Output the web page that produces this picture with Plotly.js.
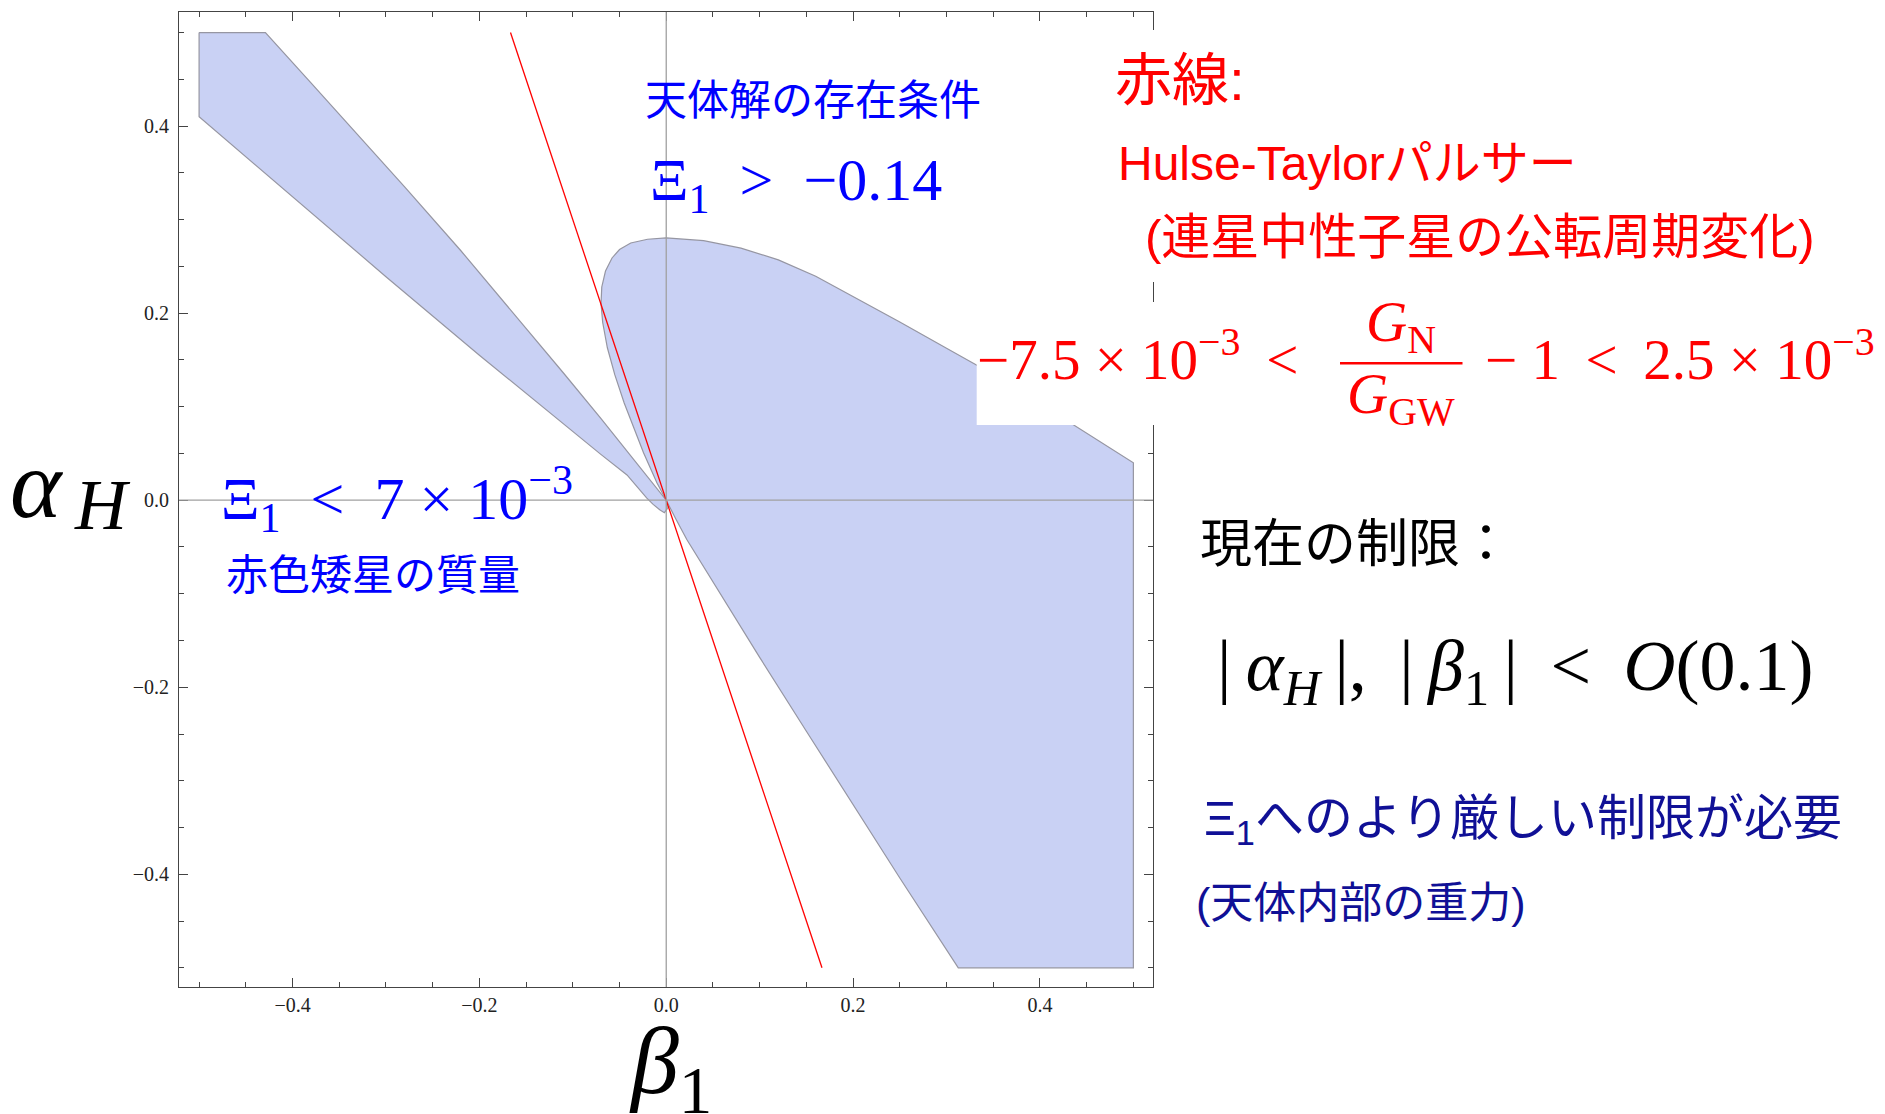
<!DOCTYPE html>
<html>
<head>
<meta charset="utf-8">
<script src="https://cdn.plot.ly/plotly-3.0.1.min.js"></script>
<style>html,body{margin:0;padding:0;background:#fff;}#chart{width:1885px;height:1114px;}</style>
</head>
<body>
<div id="chart"></div>
<script>
// ---- data (beta_1, alpha_H) ----
const wedgeBeta  = [-0.5, -0.429, -0.38, -0.33, -0.28, -0.22, -0.16, -0.11, -0.07, -0.04, -0.02, 0,
                    0.0012, -0.002, -0.007, -0.014, -0.021, -0.028, -0.035, -0.042, -0.07, -0.1, -0.15, -0.2, -0.3, -0.4, -0.5, -0.5];
const wedgeAlpha = [0.5, 0.5, 0.446, 0.391, 0.335, 0.267, 0.196, 0.136, 0.0875, 0.05, 0.025, 0,
                    -0.009, -0.0133, -0.0102, -0.0045, 0.0025, 0.0105, 0.0195, 0.027, 0.049, 0.0735, 0.114, 0.155, 0.239, 0.324, 0.41, 0.5];

const rightBeta  = [0, -0.01, -0.0243, -0.035, -0.045, -0.055, -0.063, -0.068, -0.0698, -0.069, -0.065, -0.058, -0.05, -0.038, -0.02,
                    0, 0.04, 0.08, 0.12, 0.16, 0.2, 0.25, 0.3, 0.332, 0.38, 0.4356, 0.5, 0.5, 0.3126, 0.25, 0.2, 0.15, 0.1, 0.05, 0.022, 0.01, 0];
const rightAlpha = [0, 0.0186, 0.0507, 0.078, 0.104, 0.134, 0.163, 0.19, 0.21, 0.228, 0.245, 0.259, 0.268, 0.275, 0.279,
                    0.2805, 0.2775, 0.2695, 0.257, 0.2395, 0.218, 0.1905, 0.1625, 0.1446, 0.116, 0.081, 0.04, -0.5, -0.5, -0.404, -0.326, -0.247, -0.168, -0.088, -0.042, -0.0195, 0];

const redBeta  = [-0.1667, 0.1667];
const redAlpha = [0.5, -0.5];

const majorTicks = [-0.4, -0.2, 0, 0.2, 0.4];
const majorLabels = ['\u22120.4', '\u22120.2', '0.0', '0.2', '0.4'];
const minorTicks = [-0.5, -0.45, -0.35, -0.3, -0.25, -0.15, -0.1, -0.05, 0.05, 0.1, 0.15, 0.25, 0.3, 0.35, 0.45, 0.5];

// ---- layout helpers (pixel -> paper) ----
const ML = 179, MT = 12, PW = 974, PH = 975;
const FW = 1885, FH = 1114;
function px(X){ return (X - ML) / PW; }
function py(Y){ return (MT + PH - Y) / PH; }

const FILL = 'rgb(201,209,244)';
const EDGE = 'rgb(150,150,162)';
const BLUE = 'rgb(0,0,255)';
const RED = 'rgb(255,0,0)';
const NAVY = 'rgb(16,16,150)';
const SERIF = 'Liberation Serif, Times New Roman, serif';
const CJK = 'Liberation Sans, Noto Sans CJK JP, sans-serif';

const traces = [
  {x: wedgeBeta, y: wedgeAlpha, mode: 'lines', fill: 'toself', fillcolor: FILL, line: {width: 0}, hoverinfo: 'skip'},
  {x: rightBeta, y: rightAlpha, mode: 'lines', fill: 'toself', fillcolor: FILL, line: {width: 0}, hoverinfo: 'skip'},
  {x: wedgeBeta, y: wedgeAlpha, mode: 'lines', line: {color: EDGE, width: 1.2}, hoverinfo: 'skip'},
  {x: rightBeta, y: rightAlpha, mode: 'lines', line: {color: EDGE, width: 1.2}, hoverinfo: 'skip'},
  {x: redBeta, y: redAlpha, mode: 'lines', line: {color: RED, width: 1.3}, hoverinfo: 'skip'}
];

function axis(range, standoff){
  return {
    range: range, showgrid: false, zeroline: false,
    showline: true, linecolor: '#444', linewidth: 1, mirror: 'ticks',
    ticks: 'inside', ticklen: 9, tickwidth: 1, tickcolor: '#444',
    tickmode: 'array', tickvals: majorTicks, ticktext: majorLabels,
    tickfont: {family: SERIF, size: 20, color: '#222'},
    ticklabelstandoff: standoff,
    minor: {tickmode: 'array', tickvals: minorTicks, ticks: 'inside', ticklen: 5, tickwidth: 1, tickcolor: '#444', showgrid: false}
  };
}

function ann(text, X, Y, size, color, family, xanchor){
  return {text: text, x: px(X), y: py(Y), xref: 'paper', yref: 'paper', showarrow: false,
          xanchor: xanchor || 'left', yanchor: 'middle', font: {size: size, color: color, family: family}};
}

const NB = '\u00a0', TH = '\u2009';
const annotations = [
  ann('天体解の存在条件', 813, 101, 42, BLUE, CJK, 'center'),
  ann('\u039e<sub>1</sub>' + NB + NB + '&gt;' + NB + NB + '\u22120.14', 648, 185, 60, BLUE, SERIF),
  ann('\u039e<sub>1</sub>' + NB + NB + '&lt;' + NB + NB + '7' + NB + '\u00d7' + NB + '10<sup>\u22123</sup>', 219, 499, 60, BLUE, SERIF),
  ann('赤色矮星の質量', 373, 575, 42, BLUE, CJK, 'center'),
  ann('赤線:', 1113, 80, 57, RED, CJK),
  ann('Hulse-Taylorパルサー', 1116, 163, 48, RED, CJK),
  ann('(連星中性子星の公転周期変化)', 1143, 237, 49, RED, CJK),
  ann('\u22127.5' + NB + '\u00d7' + NB + '10<sup>\u22123</sup>' + NB + TH + '&lt;', 975, 355, 57, RED, SERIF),
  ann('<i>G</i><sub>N</sub>', 1401, 326, 57, RED, SERIF, 'center'),
  ann('<i>G</i><sub>GW</sub>', 1401, 398, 57, RED, SERIF, 'center'),
  ann('\u2212' + NB + '1' + NB + TH + '&lt;' + NB + TH + '2.5' + NB + '\u00d7' + NB + '10<sup>\u22123</sup>', 1483, 355, 57, RED, SERIF),
  ann('現在の制限：', 1198, 544, 52, '#000', CJK),
  ann('|' + TH + '<i>\u03b1</i><sub><i>H</i></sub>' + TH + '|,' + NB + TH + '|' + TH + '<i>\u03b2</i><sub>1</sub>' + TH + '|' + NB + TH + '&lt;' + NB + TH + '<i>O</i>(0.1)', 1215, 671, 72, '#000', SERIF),
  ann('\u039e<sub>1</sub>へのより厳しい制限が必要', 1202, 822, 49, NAVY, CJK),
  ann('(天体内部の重力)', 1194, 903, 43, NAVY, CJK),
  // axis titles
  ann('<i>\u03b1</i>', 8, 484, 98, '#000', SERIF),
  ann('<i>H</i>', 72, 505, 72, '#000', SERIF),
  ann('<i>\u03b2</i><sub>1</sub>', 670, 1067, 96, '#000', SERIF, 'center')
];

const shapes = [
  // axes through the origin, drawn over the filled region
  {type: 'line', xref: 'x', yref: 'paper', x0: 0, x1: 0, y0: 0, y1: 1, line: {color: 'rgb(160,160,160)', width: 1.3}, layer: 'above'},
  {type: 'line', xref: 'paper', yref: 'y', x0: 0, x1: 1, y0: 0, y1: 0, line: {color: 'rgb(160,160,160)', width: 1.3}, layer: 'above'},
  // white backgrounds of the text blocks
  {type: 'rect', xref: 'paper', yref: 'paper', x0: px(1105), x1: px(FW), y0: py(282), y1: py(30), fillcolor: '#fff', line: {width: 0}, layer: 'above'},
  {type: 'rect', xref: 'paper', yref: 'paper', x0: px(976.7), x1: px(FW), y0: py(425), y1: py(302), fillcolor: '#fff', line: {width: 0}, layer: 'above'},
  // fraction bar
  {type: 'line', xref: 'paper', yref: 'paper', x0: px(1340), x1: px(1462.5), y0: py(363.3), y1: py(363.3), line: {color: RED, width: 2.5}, layer: 'above'}
];

const layout = {
  width: FW, height: FH,
  margin: {l: ML, r: FW - ML - PW, t: MT, b: FH - MT - PH, pad: 0},
  paper_bgcolor: '#fff', plot_bgcolor: '#fff',
  showlegend: false,
  xaxis: axis([-0.5215, 0.521], 0),
  yaxis: axis([-0.5205, 0.522], 5),
  annotations: annotations,
  shapes: shapes
};

Plotly.newPlot('chart', traces, layout, {displayModeBar: false, staticPlot: true});
</script>
</body>
</html>
